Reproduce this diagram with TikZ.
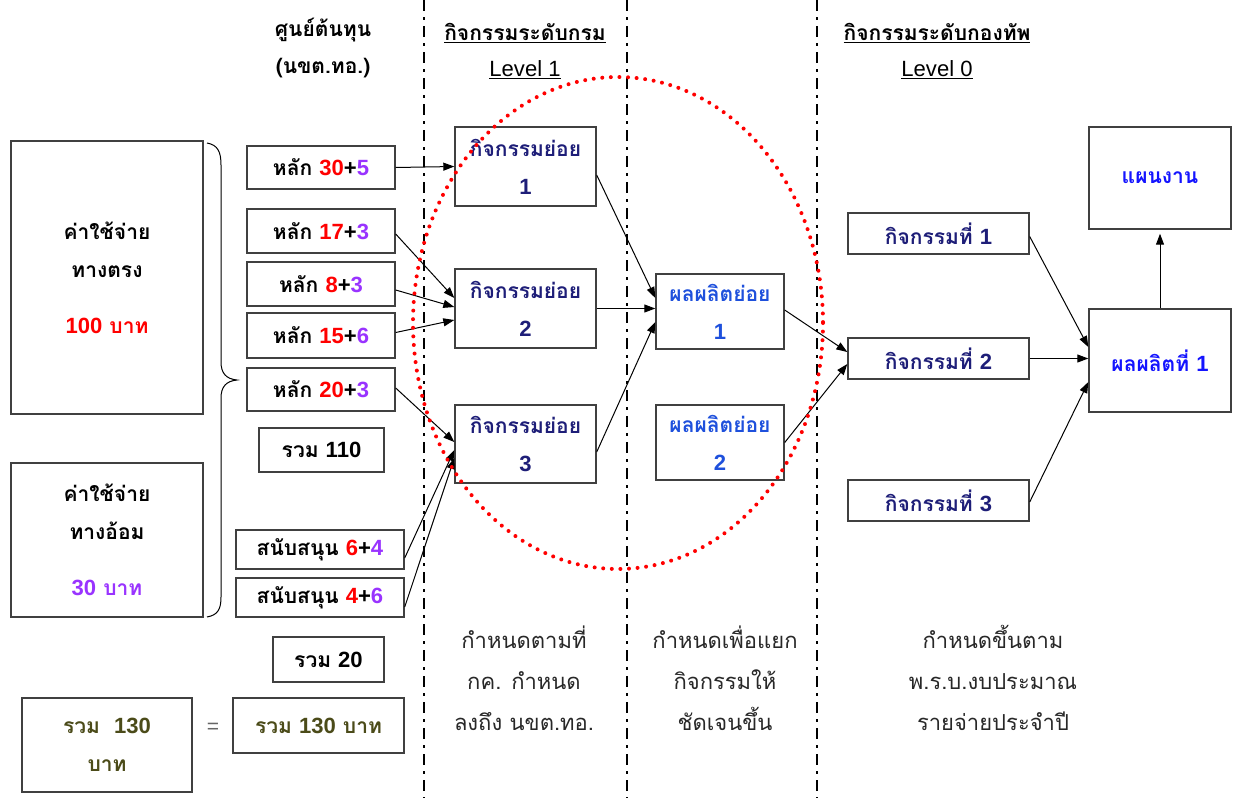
\documentclass[tikz,border=0pt]{standalone}
\usepackage{fontspec}
\setmainfont[Script=Thai]{Loma}
\newfontfamily\lat[Scale=1.05]{Liberation Sans}
\newcommand\nm[1]{{\lat #1}}
\usetikzlibrary{arrows.meta}
\definecolor{redc}{RGB}{255,0,0}
\definecolor{purp}{RGB}{153,51,255}
\definecolor{navyc}{RGB}{30,30,120}
\definecolor{bluea}{RGB}{30,80,220}
\definecolor{blueb}{RGB}{20,20,255}
\definecolor{olivec}{RGB}{75,75,25}
\definecolor{greyt}{RGB}{40,40,40}
\tikzset{
  x=1pt, y=-1pt,
  box/.style={draw=black!75, line width=1.4pt, inner sep=0pt, align=center,
    font=\fontsize{21}{38}\selectfont\bfseries},
  hdr/.style={inner sep=0pt, align=center, font=\fontsize{21}{38}\selectfont\bfseries},
  note/.style={inner sep=0pt, align=center, text=greyt, font=\fontsize{22}{41}\selectfont},
  conn/.style={line width=1pt, -{Triangle[length=11pt,width=8pt]}},
  sep/.style={line width=2.5pt, dash pattern=on 11pt off 6pt on 3pt off 6pt},
  ell/.style={draw=red, line width=4pt, line cap=round, dash pattern=on 0pt off 8.6pt}
}
\begin{document}
\begin{tikzpicture}
\useasboundingbox (0,0) rectangle (1233,798);
% separators
\draw[sep] (424,0) coordinate (s1t) -- (424,798) coordinate (s1b);
\draw[sep] (627,0) coordinate (s2t) -- (627,798) coordinate (s2b);
\draw[sep] (817,0) coordinate (s3t) -- (817,798) coordinate (s3b);
% headers
\node[hdr] (hA) at (323,30) {ศูนย์ต้นทุน};
\node[hdr] (hB) at (323,68) {(นขต.ทอ.)};
\node[hdr] (hC) at (525,33) {\underline{กิจกรรมระดับกรม}};
\node[hdr, font=\fontsize{21}{38}\selectfont] (hD) at (525,70) {\underline{\nm{Level 1}}};
\node[hdr] (hE) at (937,33) {\underline{กิจกรรมระดับกองทัพ}};
\node[hdr, font=\fontsize{21}{38}\selectfont] (hF) at (937,70) {\underline{\nm{Level 0}}};
% left boxes
\node[box, minimum width=192pt, minimum height=273pt] (L1) at (107,277.5)
  {ค่าใช้จ่าย\\ทางตรง\\[18pt]\textcolor{redc}{\nm{100} บาท}};
\node[box, minimum width=192pt, minimum height=154pt] (L2) at (107,540)
  {ค่าใช้จ่าย\\ทางอ้อม\\[18pt]\textcolor{purp}{\nm{30} บาท}};
\node[box, minimum width=170pt, minimum height=94pt, text=olivec] (T1) at (107,745)
  {รวม~~\nm{130}\\บาท};
\node[inner sep=0pt, font=\lat\fontsize{20}{24}\selectfont, text=black!60] (eq) at (213,728) {=};
% brace
\draw[line width=1pt] (207,143) .. controls (218,145) and (221,152) .. (221,165) -- (221,362)
  .. controls (221,373) and (226,379) .. (237,380) .. controls (226,381) and (221,387) .. (221,398)
  -- (221,597) .. controls (221,609) and (218,615) .. (207,617);
% cost centre boxes
\node[box, minimum width=148pt, minimum height=43pt] (h1) at (321,167.5) {หลัก \textcolor{redc}{\nm{30}}\nm{+}\textcolor{purp}{\nm{5}}};
\node[box, minimum width=148pt, minimum height=44pt] (h2) at (321,231) {หลัก \textcolor{redc}{\nm{17}}\nm{+}\textcolor{purp}{\nm{3}}};
\node[box, minimum width=148pt, minimum height=44pt] (h3) at (321,284) {หลัก \textcolor{redc}{\nm{8}}\nm{+}\textcolor{purp}{\nm{3}}};
\node[box, minimum width=148pt, minimum height=45pt] (h4) at (321,335.5) {หลัก \textcolor{redc}{\nm{15}}\nm{+}\textcolor{purp}{\nm{6}}};
\node[box, minimum width=148pt, minimum height=43pt] (h5) at (321,389.5) {หลัก \textcolor{redc}{\nm{20}}\nm{+}\textcolor{purp}{\nm{3}}};
\node[box, minimum width=125pt, minimum height=44pt] (r110) at (321.5,450) {รวม \nm{110}};
\node[box, minimum width=168pt, minimum height=39pt] (n1) at (320,549.5) {สนับสนุน \textcolor{redc}{\nm{6}}\nm{+}\textcolor{purp}{\nm{4}}};
\node[box, minimum width=168pt, minimum height=39pt] (n2) at (320,597.5) {สนับสนุน \textcolor{redc}{\nm{4}}\nm{+}\textcolor{purp}{\nm{6}}};
\node[box, minimum width=111pt, minimum height=45pt] (r20) at (328.5,659.5) {รวม \nm{20}};
\node[box, minimum width=171pt, minimum height=55pt, text=olivec] (T2) at (318.5,725.5) {รวม \nm{130} บาท};
% level 1
\node[box, minimum width=141pt, minimum height=79pt, text=navyc] (a1) at (525.5,166.5) {กิจกรรมย่อย\\\nm{1}};
\node[box, minimum width=141pt, minimum height=79pt, text=navyc] (a2) at (525.5,308.5) {กิจกรรมย่อย\\\nm{2}};
\node[box, minimum width=141pt, minimum height=78pt, text=navyc] (a3) at (525.5,444) {กิจกรรมย่อย\\\nm{3}};
\node[box, minimum width=128pt, minimum height=75pt, text=bluea] (p1) at (720,311.5) {ผลผลิตย่อย\\\nm{1}};
\node[box, minimum width=128pt, minimum height=75pt, text=bluea] (p2) at (720,442.5) {ผลผลิตย่อย\\\nm{2}};
% level 0
\node[box, minimum width=181pt, minimum height=41pt, text=navyc] (k1) at (938.5,233.5) {กิจกรรมที่ \nm{1}};
\node[box, minimum width=181pt, minimum height=41pt, text=navyc] (k2) at (938.5,358.5) {กิจกรรมที่ \nm{2}};
\node[box, minimum width=181pt, minimum height=41pt, text=navyc] (k3) at (938.5,500.5) {กิจกรรมที่ \nm{3}};
\node[box, minimum width=142pt, minimum height=103pt, text=blueb] (out) at (1160,360.5) {ผลผลิตที่ \nm{1}};
\node[box, minimum width=142pt, minimum height=102pt, text=blueb] (plan) at (1160,178) {แผนงาน};
% notes
\node[note] (c1) at (524,678) {กำหนดตามที่\\กค. กำหนด\\ลงถึง นขต.ทอ.};
\node[note] (c2) at (725,678) {กำหนดเพื่อแยก\\กิจกรรมให้\\ชัดเจนขึ้น};
\node[note] (c3) at (993,678) {กำหนดขึ้นตาม\\พ.ร.บ.งบประมาณ\\รายจ่ายประจำปี};
% connectors
\draw[conn] (h1.east) -- (a1.west);
\draw[conn] ([yshift=-3pt]h2.east) -- ([yshift=10.5pt]a2.west);
\draw[conn] ([yshift=-6pt]h3.east) -- ([yshift=1.5pt]a2.west);
\draw[conn] ([yshift=3pt]h4.east) -- ([yshift=-11.5pt]a2.west);
\draw[conn] ([yshift=1.5pt]h5.east) -- ([yshift=2pt]a3.west);
\draw[conn] ([yshift=-8.5pt]n1.east) -- ([yshift=-6pt]a3.west);
\draw[conn] ([yshift=-9.5pt]n2.east) -- ([yshift=-14pt]a3.west);
\draw[conn] ([yshift=-8.5pt]a1.east) -- ([yshift=13.5pt]p1.west);
\draw[conn] (a2.east) -- (a2.east -| p1.west);
\draw[conn] ([yshift=-8pt]a3.east) -- ([yshift=-10.5pt]p1.west);
\draw[conn] ([yshift=1.5pt]p1.east) -- ([yshift=6.5pt]k2.west);
\draw[conn] (p2.east) -- ([yshift=-5.5pt]k2.west);
\draw[conn] ([yshift=-3pt]k1.east) -- ([yshift=13.5pt]out.west);
\draw[conn] (k2.east) -- (k2.east -| out.west);
\draw[conn] ([yshift=-1.5pt]k3.east) -- ([yshift=-21.5pt]out.west);
\draw[conn] (out.north) -- ([yshift=-4pt]plan.south);
% red dotted ellipse
\draw[ell] (618,323) ellipse [x radius=205, y radius=246];
\end{tikzpicture}
\end{document}
